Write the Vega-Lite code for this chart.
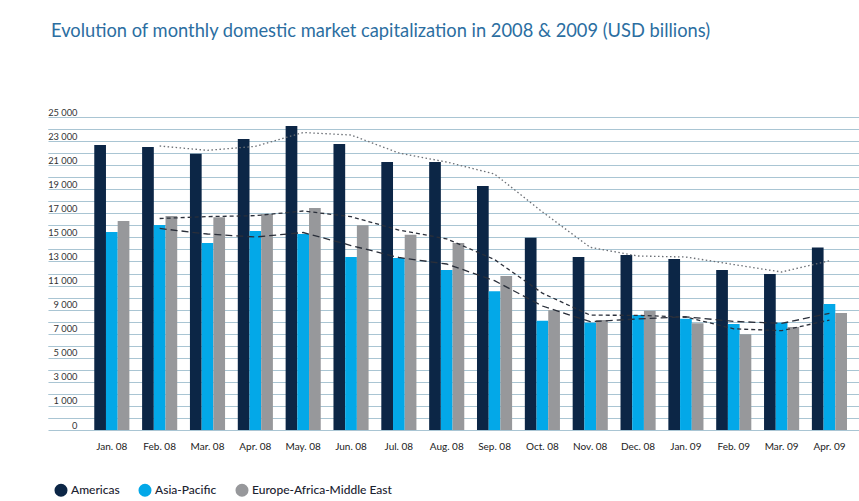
{
  "$schema": "https://vega.github.io/schema/vega-lite/v6.json",
  "width": 811,
  "height": 313,
  "autosize": {"type": "none"},
  "padding": {"left": 48, "top": 117, "right": 0, "bottom": 71},
  "background": "white",
  "title": {
    "text": "Evolution of monthly domestic market capitalization in 2008 & 2009 (USD billions)",
    "anchor": "start",
    "frame": "group",
    "font": "Lato",
    "fontSize": 18.3,
    "fontWeight": "normal",
    "color": "#2b6ea1",
    "baseline": "alphabetic",
    "offset": 53,
    "dx": 3
  },
  "config": {
    "view": {"stroke": null},
    "font": "Lato",
    "axis": {"labelOverlap": false}
  },
  "datasets": {
    "bars": [
      {"month": "Jan. 08", "region": "Americas", "value": 22670},
      {"month": "Jan. 08", "region": "Asia-Pacific", "value": 15450},
      {"month": "Jan. 08", "region": "Europe-Africa-Middle East", "value": 16360},
      {"month": "Feb. 08", "region": "Americas", "value": 22510},
      {"month": "Feb. 08", "region": "Asia-Pacific", "value": 16030},
      {"month": "Feb. 08", "region": "Europe-Africa-Middle East", "value": 16780},
      {"month": "Mar. 08", "region": "Americas", "value": 21950},
      {"month": "Mar. 08", "region": "Asia-Pacific", "value": 14530},
      {"month": "Mar. 08", "region": "Europe-Africa-Middle East", "value": 16670},
      {"month": "Apr. 08", "region": "Americas", "value": 23170},
      {"month": "Apr. 08", "region": "Asia-Pacific", "value": 15530},
      {"month": "Apr. 08", "region": "Europe-Africa-Middle East", "value": 16940},
      {"month": "May. 08", "region": "Americas", "value": 24250},
      {"month": "May. 08", "region": "Asia-Pacific", "value": 15280},
      {"month": "May. 08", "region": "Europe-Africa-Middle East", "value": 17440},
      {"month": "Jun. 08", "region": "Americas", "value": 22760},
      {"month": "Jun. 08", "region": "Asia-Pacific", "value": 13370},
      {"month": "Jun. 08", "region": "Europe-Africa-Middle East", "value": 16000},
      {"month": "Jul. 08", "region": "Americas", "value": 21260},
      {"month": "Jul. 08", "region": "Asia-Pacific", "value": 13290},
      {"month": "Jul. 08", "region": "Europe-Africa-Middle East", "value": 15220},
      {"month": "Aug. 08", "region": "Americas", "value": 21260},
      {"month": "Aug. 08", "region": "Asia-Pacific", "value": 12290},
      {"month": "Aug. 08", "region": "Europe-Africa-Middle East", "value": 14530},
      {"month": "Sep. 08", "region": "Americas", "value": 19270},
      {"month": "Sep. 08", "region": "Asia-Pacific", "value": 10520},
      {"month": "Sep. 08", "region": "Europe-Africa-Middle East", "value": 11790},
      {"month": "Oct. 08", "region": "Americas", "value": 14970},
      {"month": "Oct. 08", "region": "Asia-Pacific", "value": 8080},
      {"month": "Oct. 08", "region": "Europe-Africa-Middle East", "value": 8940},
      {"month": "Nov. 08", "region": "Americas", "value": 13370},
      {"month": "Nov. 08", "region": "Asia-Pacific", "value": 7910},
      {"month": "Nov. 08", "region": "Europe-Africa-Middle East", "value": 8140},
      {"month": "Dec. 08", "region": "Americas", "value": 13540},
      {"month": "Dec. 08", "region": "Asia-Pacific", "value": 8550},
      {"month": "Dec. 08", "region": "Europe-Africa-Middle East", "value": 8910},
      {"month": "Jan. 09", "region": "Americas", "value": 13200},
      {"month": "Jan. 09", "region": "Asia-Pacific", "value": 8250},
      {"month": "Jan. 09", "region": "Europe-Africa-Middle East", "value": 7860},
      {"month": "Feb. 09", "region": "Americas", "value": 12290},
      {"month": "Feb. 09", "region": "Asia-Pacific", "value": 7800},
      {"month": "Feb. 09", "region": "Europe-Africa-Middle East", "value": 6950},
      {"month": "Mar. 09", "region": "Americas", "value": 11960},
      {"month": "Mar. 09", "region": "Asia-Pacific", "value": 7910},
      {"month": "Mar. 09", "region": "Europe-Africa-Middle East", "value": 7550},
      {"month": "Apr. 09", "region": "Americas", "value": 14160},
      {"month": "Apr. 09", "region": "Asia-Pacific", "value": 9470},
      {"month": "Apr. 09", "region": "Europe-Africa-Middle East", "value": 8720}
    ],
    "trend": [
      {"month": "Feb. 08", "region": "Americas", "avg": 22590},
      {"month": "Mar. 08", "region": "Americas", "avg": 22230},
      {"month": "Apr. 08", "region": "Americas", "avg": 22560},
      {"month": "May. 08", "region": "Americas", "avg": 23710},
      {"month": "Jun. 08", "region": "Americas", "avg": 23505},
      {"month": "Jul. 08", "region": "Americas", "avg": 22010},
      {"month": "Aug. 08", "region": "Americas", "avg": 21260},
      {"month": "Sep. 08", "region": "Americas", "avg": 20265},
      {"month": "Oct. 08", "region": "Americas", "avg": 17120},
      {"month": "Nov. 08", "region": "Americas", "avg": 14170},
      {"month": "Dec. 08", "region": "Americas", "avg": 13455},
      {"month": "Jan. 09", "region": "Americas", "avg": 13370},
      {"month": "Feb. 09", "region": "Americas", "avg": 12745},
      {"month": "Mar. 09", "region": "Americas", "avg": 12125},
      {"month": "Apr. 09", "region": "Americas", "avg": 13060},
      {"month": "Feb. 08", "region": "Asia-Pacific", "avg": 15740},
      {"month": "Mar. 08", "region": "Asia-Pacific", "avg": 15280},
      {"month": "Apr. 08", "region": "Asia-Pacific", "avg": 15030},
      {"month": "May. 08", "region": "Asia-Pacific", "avg": 15405},
      {"month": "Jun. 08", "region": "Asia-Pacific", "avg": 14325},
      {"month": "Jul. 08", "region": "Asia-Pacific", "avg": 13330},
      {"month": "Aug. 08", "region": "Asia-Pacific", "avg": 12790},
      {"month": "Sep. 08", "region": "Asia-Pacific", "avg": 11405},
      {"month": "Oct. 08", "region": "Asia-Pacific", "avg": 9300},
      {"month": "Nov. 08", "region": "Asia-Pacific", "avg": 7995},
      {"month": "Dec. 08", "region": "Asia-Pacific", "avg": 8230},
      {"month": "Jan. 09", "region": "Asia-Pacific", "avg": 8400},
      {"month": "Feb. 09", "region": "Asia-Pacific", "avg": 8025},
      {"month": "Mar. 09", "region": "Asia-Pacific", "avg": 7855},
      {"month": "Apr. 09", "region": "Asia-Pacific", "avg": 8690},
      {"month": "Feb. 08", "region": "Europe-Africa-Middle East", "avg": 16570},
      {"month": "Mar. 08", "region": "Europe-Africa-Middle East", "avg": 16725},
      {"month": "Apr. 08", "region": "Europe-Africa-Middle East", "avg": 16805},
      {"month": "May. 08", "region": "Europe-Africa-Middle East", "avg": 17190},
      {"month": "Jun. 08", "region": "Europe-Africa-Middle East", "avg": 16720},
      {"month": "Jul. 08", "region": "Europe-Africa-Middle East", "avg": 15610},
      {"month": "Aug. 08", "region": "Europe-Africa-Middle East", "avg": 14875},
      {"month": "Sep. 08", "region": "Europe-Africa-Middle East", "avg": 13160},
      {"month": "Oct. 08", "region": "Europe-Africa-Middle East", "avg": 10365},
      {"month": "Nov. 08", "region": "Europe-Africa-Middle East", "avg": 8540},
      {"month": "Dec. 08", "region": "Europe-Africa-Middle East", "avg": 8525},
      {"month": "Jan. 09", "region": "Europe-Africa-Middle East", "avg": 8385},
      {"month": "Feb. 09", "region": "Europe-Africa-Middle East", "avg": 7405},
      {"month": "Mar. 09", "region": "Europe-Africa-Middle East", "avg": 7250},
      {"month": "Apr. 09", "region": "Europe-Africa-Middle East", "avg": 8135}
    ]
  },
  "layer": [
    {
      "data": {"name": "bars"},
      "mark": {"type": "bar"},
      "encoding": {
        "x": {
          "field": "month",
          "type": "nominal",
          "scale": {
            "domain": ["Jan. 08", "Feb. 08", "Mar. 08", "Apr. 08", "May. 08", "Jun. 08", "Jul. 08", "Aug. 08", "Sep. 08", "Oct. 08", "Nov. 08", "Dec. 08", "Jan. 09", "Feb. 09", "Mar. 09", "Apr. 09"],
            "paddingInner": 0.266,
            "paddingOuter": 0.609,
            "align": 0.794
          },
          "axis": {
            "title": null,
            "domain": false,
            "ticks": false,
            "tickSize": 0,
            "labelAngle": 0,
            "labelPadding": 11,
            "labelFont": "Lato",
            "labelFontSize": 10,
            "labelColor": "#222222"
          }
        },
        "xOffset": {
          "field": "region",
          "type": "nominal",
          "scale": {"paddingInner": 0, "paddingOuter": 0}
        },
        "y": {
          "field": "value",
          "type": "quantitative",
          "scale": {"domain": [-1000, 25000], "nice": false, "zero": false},
          "axis": {
            "title": null,
            "orient": "left",
            "domain": false,
            "ticks": false,
            "tickSize": 0,
            "values": [-1000, 1000, 3000, 5000, 7000, 9000, 11000, 13000, 15000, 17000, 19000, 21000, 23000, 25000],
            "labelExpr": "datum.value < 0 ? '0' : replace(format(datum.value, ','), ',', ' ')",
            "labelOverlap": false,
            "labelFlush": false,
            "labelAlign": "right",
            "labelBaseline": "bottom",
            "labelPadding": -29,
            "labelFont": "Lato",
            "labelFontSize": 9.3,
            "labelColor": "#333333",
            "grid": true,
            "gridColor": "#a9c5d3",
            "gridWidth": 1,
            "gridOpacity": 1
          }
        },
        "y2": {"datum": -1000},
        "color": {
          "field": "region",
          "type": "nominal",
          "scale": {
            "domain": ["Americas", "Asia-Pacific", "Europe-Africa-Middle East"],
            "range": ["#0c2646", "#03a8e8", "#97989b"]
          },
          "legend": {
            "title": null,
            "orient": "none",
            "legendX": 6,
            "legendY": 366,
            "direction": "horizontal",
            "padding": 0,
            "symbolType": "circle",
            "symbolSize": 170,
            "symbolStrokeWidth": 0,
            "symbolOpacity": 1,
            "labelFont": "Lato",
            "labelFontSize": 12,
            "labelFontWeight": 500,
            "labelColor": "#1a2230",
            "labelOffset": 3,
            "columnPadding": 18
          }
        }
      }
    },
    {
      "data": {"name": "trend"},
      "transform": [{"filter": "datum.region === 'Americas'"}],
      "mark": {"type": "line", "strokeDash": [1.5, 2.5], "color": "#6b6f75", "strokeWidth": 1.3},
      "encoding": {
        "x": {"field": "month", "type": "nominal"},
        "y": {
          "field": "avg",
          "type": "quantitative",
          "axis": {
            "title": null,
            "orient": "right",
            "domain": false,
            "ticks": false,
            "labels": false,
            "values": [0, 2000, 4000, 6000, 8000, 10000, 12000, 14000, 16000, 18000, 20000, 22000, 24000],
            "grid": true,
            "gridColor": "#a9c5d3",
            "gridWidth": 1,
            "gridOpacity": 1
          }
        },
        "order": {"value": null}
      }
    },
    {
      "data": {"name": "trend"},
      "transform": [{"filter": "datum.region !== 'Americas'"}],
      "mark": {"type": "line", "color": "#2a2f3a", "strokeWidth": 1.3},
      "encoding": {
        "x": {"field": "month", "type": "nominal"},
        "y": {
          "field": "avg",
          "type": "quantitative",
          "axis": {
            "title": null,
            "orient": "right",
            "domain": false,
            "ticks": false,
            "labels": false,
            "values": [0, 2000, 4000, 6000, 8000, 10000, 12000, 14000, 16000, 18000, 20000, 22000, 24000],
            "grid": true,
            "gridColor": "#a9c5d3",
            "gridWidth": 1,
            "gridOpacity": 1
          }
        },
        "detail": {"field": "region", "type": "nominal"},
        "strokeDash": {
          "field": "region",
          "type": "nominal",
          "scale": {"domain": ["Asia-Pacific", "Europe-Africa-Middle East"], "range": [[7, 4], [4, 3]]},
          "legend": null
        },
        "order": {"value": null}
      }
    }
  ]
}
